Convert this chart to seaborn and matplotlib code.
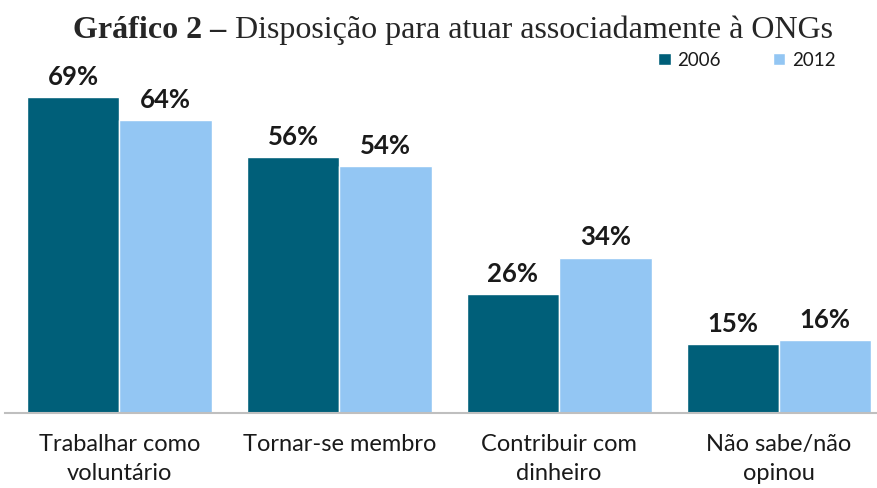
import pandas as pd
import matplotlib.pyplot as plt
import seaborn as sns

sns.set_style('white')
plt.rcParams['font.family'] = ['Lato', 'DejaVu Sans']

# dados
categorias = ['Trabalhar como\nvoluntário', 'Tornar-se membro',
              'Contribuir com\ndinheiro', 'Não sabe/não\nopinou']
anos = ['2006', '2012']
valores_2006 = [69, 56, 26, 15]
valores_2012 = [64, 54, 34, 16]
cores = ['#005F79', '#93C6F3']

df = pd.DataFrame({
    'categoria': categorias * 2,
    'ano': [anos[0]] * 4 + [anos[1]] * 4,
    'valor': valores_2006 + valores_2012,
})

fig = plt.figure(figsize=(8.78, 4.88), dpi=100)
ax = fig.add_axes([5 / 878, 1 - 413 / 488, 873 / 878, 353 / 488])

sns.barplot(data=df, x='categoria', y='valor', hue='ano', palette=cores,
            width=0.84, saturation=1, ax=ax, legend=True)

for cont in ax.containers:
    ax.bar_label(cont, labels=[f'{v:.0f}%' for v in cont.datavalues],
                 padding=6, fontsize=18.5, fontweight='bold', color='#1a1a1a')

ax.set_ylim(0, 77.2)
ax.set_xlim(-0.52, 3.45)
ax.set_xlabel('')
ax.set_ylabel('')
ax.set_yticks([])
ax.tick_params(axis='x', length=0, pad=15, labelsize=17, labelcolor='#1a1a1a')
for lbl in ax.get_xticklabels():
    lbl.set_linespacing(1.5)
for s in ['top', 'right', 'left']:
    ax.spines[s].set_visible(False)
ax.spines['bottom'].set_color('#BFBFBF')
ax.spines['bottom'].set_linewidth(1.5)

handles, labels = ax.get_legend_handles_labels()
ax.legend_.remove()
fig.legend(handles, labels, loc='center', bbox_to_anchor=(747 / 878, 1 - 60 / 488),
           ncol=2, frameon=False, fontsize=13.5, handlelength=0.65, handleheight=0.65,
           handletextpad=0.35, columnspacing=2.8, labelcolor='#1a1a1a')

# titulo em duas partes (negrito + normal)
fig.canvas.draw()
r = fig.canvas.get_renderer()
t1 = fig.text(0, 0, 'Gráfico 2 –', fontsize=23, fontweight='bold',
              family='Liberation Serif', va='baseline')
t2 = fig.text(0, 0, ' Disposição para atuar associadamente à ONGs', fontsize=23,
              family='Liberation Serif', va='baseline')
w1 = t1.get_window_extent(r).width
w2 = t2.get_window_extent(r).width
x0 = (453 - (w1 + w2) / 2) / 878
yb = 1 - 38 / 488
t1.set_position((x0, yb))
t2.set_position((x0 + w1 / 878, yb))

fig.savefig('out.png', dpi=100)
